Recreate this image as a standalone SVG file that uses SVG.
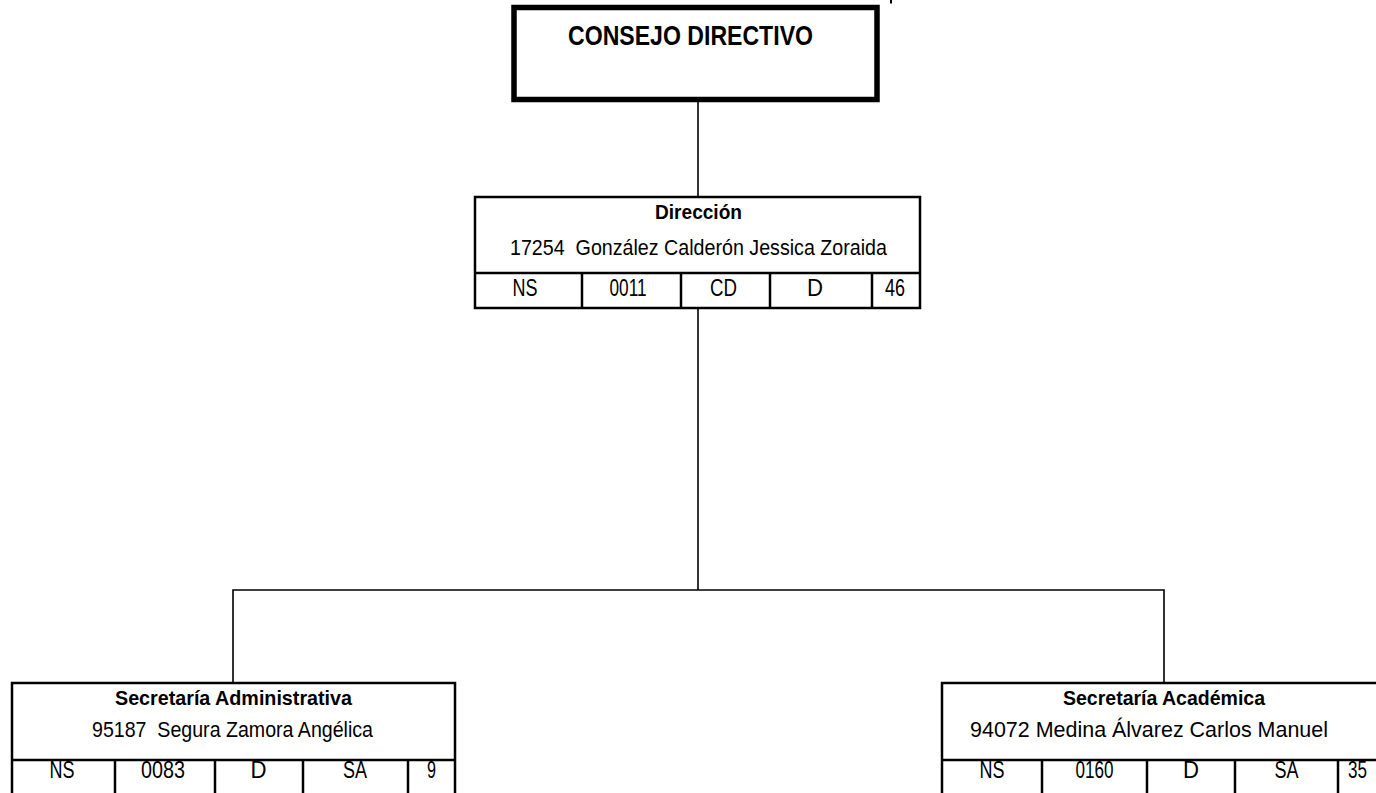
<svg xmlns="http://www.w3.org/2000/svg" width="1376" height="793" viewBox="0 0 1376 793">
<style>
.box{fill:#fff;stroke:#000;stroke-width:2.5}
.div{stroke:#000;stroke-width:2.5}
.con{fill:none;stroke:#000;stroke-width:1.6}
text{font-family:"Liberation Sans Narrow","Liberation Sans",Arial,sans-serif;fill:#000;text-anchor:middle}
.h{font-weight:bold;font-size:21px}
.n{font-size:22px}
.t{font-size:23px}
</style>
<rect width="1376" height="793" fill="#fff"/>
<line x1="891" y1="0" x2="891" y2="3.5" stroke="#000" stroke-width="2"/>
<g id="connectors">
<line class="con" x1="698" y1="102" x2="698" y2="197"/>
<line class="con" x1="698" y1="308" x2="698" y2="590"/>
<polyline class="con" points="233,683 233,590 1164,590 1164,683"/>
</g>
<g id="consejo">
<rect x="514" y="7.5" width="363" height="92" fill="#fff" stroke="#000" stroke-width="5.5"/>
<text x="690.5" y="45" font-size="28" font-weight="bold" textLength="245" lengthAdjust="spacingAndGlyphs">CONSEJO DIRECTIVO</text>
</g>
<g id="direccion">
<rect class="box" x="475" y="197" width="445" height="111"/>
<line class="div" x1="475" y1="273" x2="920" y2="273"/>
<line class="div" x1="582" y1="273" x2="582" y2="308"/>
<line class="div" x1="681" y1="273" x2="681" y2="308"/>
<line class="div" x1="770" y1="273" x2="770" y2="308"/>
<line class="div" x1="872" y1="273" x2="872" y2="308"/>
<text class="h" x="698.5" y="219" textLength="87" lengthAdjust="spacingAndGlyphs">Dirección</text>
<text class="n" x="698.5" y="255" textLength="377" lengthAdjust="spacingAndGlyphs" xml:space="preserve">17254  González Calderón Jessica Zoraida</text>
<text class="t" x="525" y="296" textLength="25" lengthAdjust="spacingAndGlyphs">NS</text>
<text class="t" x="628" y="296" textLength="37" lengthAdjust="spacingAndGlyphs">0011</text>
<text class="t" x="723.5" y="296" textLength="27" lengthAdjust="spacingAndGlyphs">CD</text>
<text class="t" x="815" y="296" textLength="16" lengthAdjust="spacingAndGlyphs">D</text>
<text class="t" x="895" y="296" textLength="20" lengthAdjust="spacingAndGlyphs">46</text>
</g>
<g id="sec-admin">
<rect class="box" x="12" y="683" width="443" height="130"/>
<line class="div" x1="12" y1="760" x2="455" y2="760"/>
<line class="div" x1="115" y1="760" x2="115" y2="800"/>
<line class="div" x1="215" y1="760" x2="215" y2="800"/>
<line class="div" x1="303" y1="760" x2="303" y2="800"/>
<line class="div" x1="408" y1="760" x2="408" y2="800"/>
<text class="h" x="233.5" y="705" textLength="237" lengthAdjust="spacingAndGlyphs">Secretaría Administrativa</text>
<text class="n" x="232.5" y="737" textLength="281" lengthAdjust="spacingAndGlyphs" xml:space="preserve">95187  Segura Zamora Angélica</text>
<text class="t" x="62" y="778" textLength="25" lengthAdjust="spacingAndGlyphs">NS</text>
<text class="t" x="163" y="778" textLength="44" lengthAdjust="spacingAndGlyphs">0083</text>
<text class="t" x="258.5" y="778" textLength="16" lengthAdjust="spacingAndGlyphs">D</text>
<text class="t" x="355" y="778" textLength="24" lengthAdjust="spacingAndGlyphs">SA</text>
<text class="t" x="431.5" y="778" textLength="9" lengthAdjust="spacingAndGlyphs">9</text>
</g>
<g id="sec-academica">
<rect class="box" x="942" y="683" width="443" height="130"/>
<line class="div" x1="942" y1="760" x2="1385" y2="760"/>
<line class="div" x1="1042" y1="760" x2="1042" y2="800"/>
<line class="div" x1="1147" y1="760" x2="1147" y2="800"/>
<line class="div" x1="1235" y1="760" x2="1235" y2="800"/>
<line class="div" x1="1338" y1="760" x2="1338" y2="800"/>
<text class="h" x="1164" y="705" textLength="202" lengthAdjust="spacingAndGlyphs">Secretaría Académica</text>
<text class="n" x="1149" y="737" textLength="358" lengthAdjust="spacingAndGlyphs">94072 Medina Álvarez Carlos Manuel</text>
<text class="t" x="992" y="778" textLength="25" lengthAdjust="spacingAndGlyphs">NS</text>
<text class="t" x="1094.5" y="778" textLength="38" lengthAdjust="spacingAndGlyphs">0160</text>
<text class="t" x="1191" y="778" textLength="16" lengthAdjust="spacingAndGlyphs">D</text>
<text class="t" x="1286.5" y="778" textLength="24" lengthAdjust="spacingAndGlyphs">SA</text>
<text class="t" x="1357.5" y="778" textLength="19" lengthAdjust="spacingAndGlyphs">35</text>
</g>
</svg>
